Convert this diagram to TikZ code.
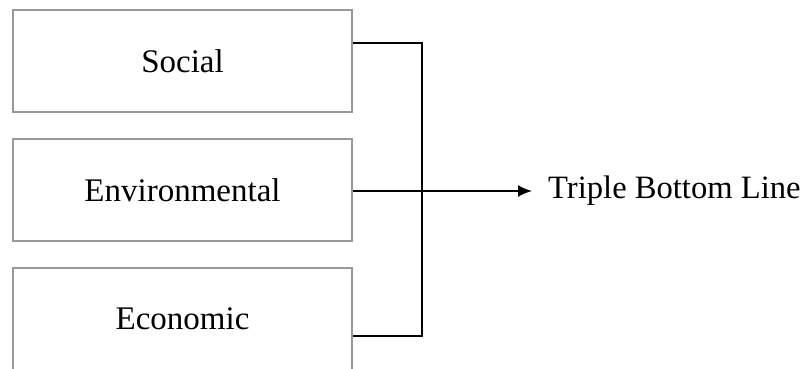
\documentclass[tikz,border=0pt]{standalone}
\usepackage{fontspec}
\setmainfont{Liberation Serif}
\usetikzlibrary{arrows.meta}
\begin{document}
\begin{tikzpicture}[x=1pt,y=-1pt,
  pillar/.style={draw=black!40, line width=2pt, fill=white, minimum width=339pt, minimum height=102pt, inner sep=0pt, font=\fontsize{33}{38}\selectfont},
  link/.style={draw=black, line width=2pt},
  result/.style={inner sep=0pt, anchor=west, font=\fontsize{32.6}{38}\selectfont}]
\useasboundingbox (0,0) rectangle (809,369);
\clip (0,0) rectangle (809,369);
\node[pillar] (soc) at (182.5,61) {Social};
\node[pillar] (env) at (182.5,190) {Environmental};
\node[pillar] (eco) at (182.5,319) {Economic};
\node[result] (tbl) at (548,191) {Triple Bottom Line};
\coordinate (bx) at (422,191);
\draw[link] ([yshift=18pt]soc.east) -| (bx);
\draw[link] ([yshift=-17pt]eco.east) -| (bx);
\draw[link, -{Latex[length=14pt,width=12pt]}] (env.east |- bx) -- ([xshift=-16pt]tbl.west);
\end{tikzpicture}
\end{document}
